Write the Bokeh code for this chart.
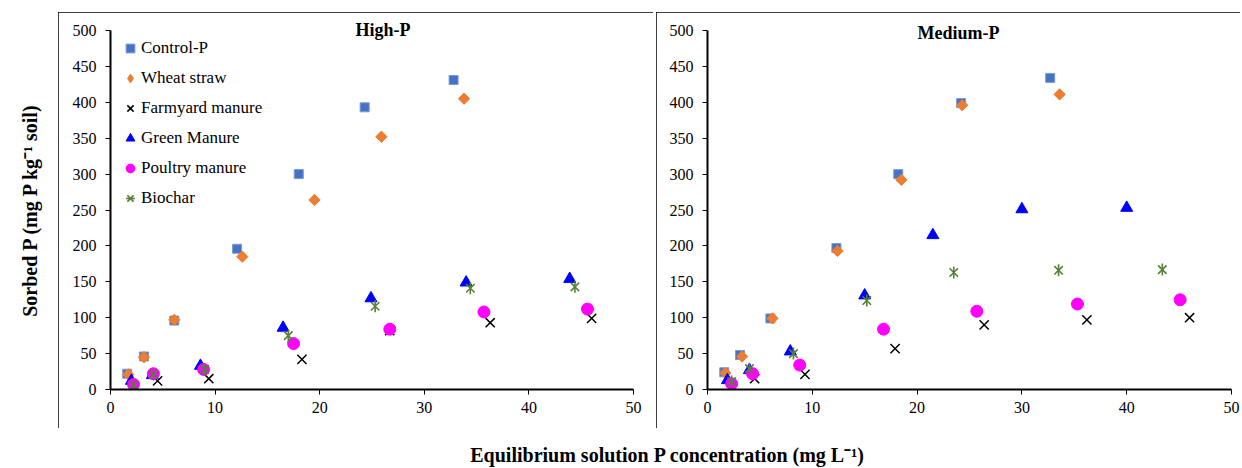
import numpy as np
from bokeh.plotting import figure
from bokeh.models import Range1d, Legend, LegendItem, Label, FixedTicker, Spacer, Title
from bokeh.layouts import row, column
from bokeh.embed import file_html
from bokeh.resources import INLINE

FONT = "'Liberation Serif'"

# ---------------- data ----------------
series_names = ["Control-P", "Wheat straw", "Farmyard manure", "Green Manure", "Poultry manure", "Biochar"]
panel_titles = ["High-P", "Medium-P"]
x_ticks = [0, 10, 20, 30, 40, 50]
y_ticks = [0, 50, 100, 150, 200, 250, 300, 350, 400, 450, 500]

# High-P
ctrl_hi_x = [1.6, 3.2, 6.1, 12.1, 18.0, 24.3, 32.8]
ctrl_hi_y = [22, 46, 96, 196, 300, 393, 431]
wheat_hi_x = [1.7, 3.2, 6.1, 12.6, 19.5, 25.9, 33.8]
wheat_hi_y = [21, 45, 97, 185, 264, 352, 405]
fym_hi_x = [2.2, 4.5, 9.4, 18.3, 26.7, 36.3, 46.0]
fym_hi_y = [5, 12, 15, 42, 82, 93, 99]
green_hi_x = [2.0, 4.0, 8.6, 16.5, 24.9, 34.0, 43.9]
green_hi_y = [12, 20, 33, 86, 127, 149, 154]
poultry_hi_x = [2.2, 4.1, 8.9, 17.5, 26.7, 35.7, 45.6]
poultry_hi_y = [7, 22, 28, 64, 84, 108, 112]
biochar_hi_x = [2.2, 4.1, 9.0, 17.0, 25.3, 34.4, 44.4]
biochar_hi_y = [6, 21, 28, 75, 116, 141, 143]

# Medium-P
ctrl_med_x = [1.6, 3.1, 6.0, 12.3, 18.2, 24.2, 32.7]
ctrl_med_y = [24, 48, 99, 197, 300, 399, 434]
wheat_med_x = [1.7, 3.3, 6.2, 12.4, 18.5, 24.3, 33.6]
wheat_med_y = [23, 46, 99, 193, 292, 396, 411]
fym_med_x = [2.3, 4.5, 9.3, 17.9, 26.4, 36.2, 46.0]
fym_med_y = [3, 15, 21, 57, 90, 97, 100]
green_med_x = [1.9, 4.0, 7.9, 15.0, 21.5, 30.0, 40.0]
green_med_y = [13, 27, 53, 131, 215, 251, 253]
poultry_med_x = [2.3, 4.3, 8.8, 16.8, 25.7, 35.3, 45.1]
poultry_med_y = [8, 22, 34, 84, 109, 119, 125]
biochar_med_x = [2.3, 4.0, 8.2, 15.2, 23.5, 33.5, 43.4]
biochar_med_y = [11, 29, 50, 124, 163, 166, 167]

BLUE_SQ = "#4472C4"
ORANGE = "#ED7D31"
GREEN = "#548235"


def make_panel(width, bl, br, bt, bb, data, title, t_off, t_stand, with_legend):
    p = figure(width=width, height=416, x_range=Range1d(0, 50), y_range=Range1d(0, 500),
               output_backend="svg", toolbar_location=None,
               min_border_left=bl, min_border_right=br, min_border_top=bt, min_border_bottom=bb)
    p.outline_line_color = None
    p.background_fill_color = "white"
    p.border_fill_color = "white"
    p.xgrid.visible = False
    p.ygrid.visible = False
    p.xaxis.ticker = FixedTicker(ticks=x_ticks)
    p.yaxis.ticker = FixedTicker(ticks=y_ticks)
    for ax in (p.xaxis[0], p.yaxis[0]):
        ax.axis_line_width = 2
        ax.axis_line_color = "black"
        ax.major_tick_line_color = "black"
        ax.major_tick_line_width = 1
        ax.major_tick_out = 5
        ax.major_tick_in = 0
        ax.minor_tick_line_color = None
        ax.major_label_text_font = FONT
        ax.major_label_text_font_style = "normal"
        ax.major_label_text_font_size = "16px"
        ax.major_label_text_color = "black"
    p.yaxis.major_label_standoff = 9
    p.xaxis.major_label_standoff = 7

    (cx, cy), (wx, wy), (fx, fy), (gx, gy), (px, py), (bx, by) = data
    r_c = p.scatter(cx, cy, marker="square", size=9, fill_color=BLUE_SQ, line_color="#7A9BD8", line_width=1)
    # narrow diamond underneath (used for the key), rotated square on top (Excel-style diamond)
    r_wk = p.scatter(wx, wy, marker="diamond", size=10, fill_color=ORANGE, line_color=ORANGE)
    r_w = p.scatter(wx, wy, marker="square", angle=np.pi / 4, size=8, fill_color=ORANGE, line_color=ORANGE)
    r_f = p.scatter(fx, fy, marker="x", size=13, line_color="black", line_width=1.5)
    r_g = p.scatter(gx, gy, marker="triangle", size=12, fill_color="#0000FF", line_color="#0000FF")
    r_p = p.scatter(px, py, marker="circle", size=12, fill_color="#FF00FF", line_color="#FF00FF")
    r_b1 = p.scatter(bx, by, marker="x", size=12, line_color=GREEN, line_width=1.6)
    r_b2 = p.scatter(bx, by, marker="dash", angle=np.pi / 2, size=12, line_color=GREEN, line_width=1.6)

    p.add_layout(Title(text=title, align="left", offset=t_off, standoff=t_stand, vertical_align="bottom",
                       text_font=FONT, text_font_style="bold", text_font_size="18px",
                       text_color="black"), "above")

    if with_legend:
        items = [LegendItem(label=series_names[0], renderers=[r_c]),
                 LegendItem(label=series_names[1], renderers=[r_wk]),
                 LegendItem(label=series_names[2], renderers=[r_f]),
                 LegendItem(label=series_names[3], renderers=[r_g]),
                 LegendItem(label=series_names[4], renderers=[r_p]),
                 LegendItem(label=series_names[5], renderers=[r_b1, r_b2])]
        leg = Legend(items=items, location=(9, 177), margin=0, padding=0, spacing=2,
                     glyph_width=22, glyph_height=28, label_height=28, label_standoff=0,
                     label_text_font=FONT, label_text_font_size="17px", label_text_color="black",
                     border_line_color=None, background_fill_alpha=0)
        p.add_layout(leg)

    p.styles = {"outline": "1px solid #000", "outline-offset": "-1px"}
    return p


hi_data = [(ctrl_hi_x, ctrl_hi_y), (wheat_hi_x, wheat_hi_y), (fym_hi_x, fym_hi_y),
           (green_hi_x, green_hi_y), (poultry_hi_x, poultry_hi_y), (biochar_hi_x, biochar_hi_y)]
med_data = [(ctrl_med_x, ctrl_med_y), (wheat_med_x, wheat_med_y), (fym_med_x, fym_med_y),
            (green_med_x, green_med_y), (poultry_med_x, poultry_med_y), (biochar_med_x, biochar_med_y)]

p1 = make_panel(595, 52, 20, 18, 38, hi_data, panel_titles[0], 245, -18, True)
p2 = make_panel(584, 51, 9, 17, 39, med_data, panel_titles[1], 210, -24, False)

# outer y label
ylab = figure(width=58, height=416, x_range=Range1d(0, 1), y_range=Range1d(0, 1),
              output_backend="svg", toolbar_location=None, x_axis_location=None, y_axis_location=None,
              min_border=0)
ylab.outline_line_color = None
ylab.xgrid.visible = False
ylab.ygrid.visible = False
ylab.add_layout(Label(x=0.5, y=0.5, text="Sorbed P (mg P kg\u207b\u00b9 soil)", angle=np.pi / 2,
                      text_align="center", text_baseline="middle", text_font=FONT,
                      text_font_style="bold", text_font_size="20px", text_color="black"))

# outer x label
xlab = figure(width=1240, height=39, x_range=Range1d(0, 1), y_range=Range1d(0, 1),
              output_backend="svg", toolbar_location=None, x_axis_location=None, y_axis_location=None,
              min_border=0)
xlab.outline_line_color = None
xlab.xgrid.visible = False
xlab.ygrid.visible = False
xlab.add_layout(Label(x=0.538, y=0.33, text="Equilibrium solution P concentration (mg L\u207b\u00b9)",
                      text_align="center", text_baseline="middle", text_font=FONT,
                      text_font_style="bold", text_font_size="20px", text_color="black"))

layout = column(Spacer(height=12), row(ylab, p1, Spacer(width=3), p2), xlab)

open("out.html", "w").write(file_html(layout, INLINE))
